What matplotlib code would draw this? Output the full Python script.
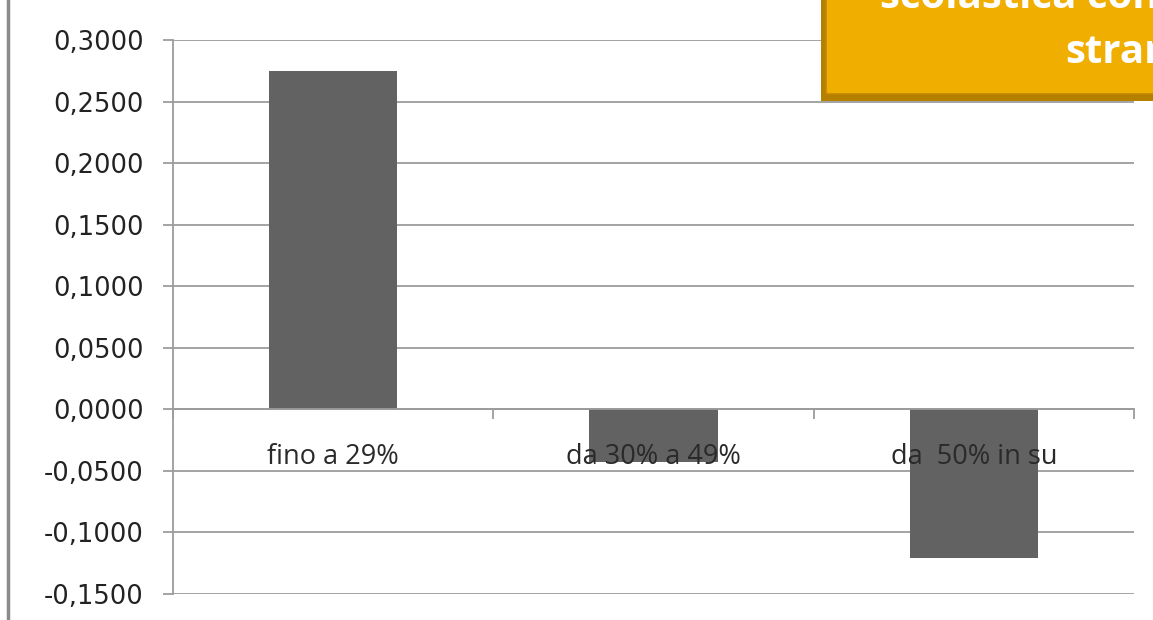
import matplotlib.pyplot as plt
from matplotlib.patches import Rectangle
from matplotlib.ticker import FuncFormatter, MultipleLocator

# data
categories = ["fino a 29%", "da 30% a 49%", "da  50% in su"]
values = [0.2748, -0.0426, -0.1205]
title_lines = ["scolastica con", "straniera"]

fig = plt.figure(figsize=(11.53, 6.2), dpi=100)
ax = fig.add_axes([173 / 1153, 1 - 594 / 620, (1134 - 173) / 1153, (594 - 40) / 620])

grid_col = "#9c9c9c"
xs = [i + 0.5 for i in range(len(categories))]
ax.bar(xs, values, width=0.4, color="#626262", zorder=2)

ax.set_xlim(0, len(categories))
ax.set_ylim(-0.15, 0.30)
ax.yaxis.set_major_locator(MultipleLocator(0.05))
ax.yaxis.set_major_formatter(FuncFormatter(lambda v, p: f"{v:.4f}".replace(".", ",")))
ax.yaxis.grid(True, color=grid_col, lw=1.3, zorder=0)
ax.set_axisbelow(True)

for s in ["top", "right"]:
    ax.spines[s].set_visible(False)
ax.spines["left"].set_color(grid_col)
ax.spines["left"].set_linewidth(1.3)
ax.spines["bottom"].set_position(("data", 0))
ax.spines["bottom"].set_color(grid_col)
ax.spines["bottom"].set_linewidth(1.3)
ax.spines["bottom"].set_zorder(3)

ax.set_xticks(range(len(categories) + 1))
ax.set_xticklabels([])
ax.tick_params(axis="x", direction="out", length=7, width=1.3, color=grid_col)
ax.tick_params(axis="y", direction="out", length=7, width=1.3, color=grid_col,
               pad=14, labelsize=18.5, labelcolor="#222222")

# category labels sit right under the zero line, over the bars
for x, lab in zip(xs, categories):
    ax.annotate(lab, (x, 0), xytext=(0, -24), textcoords="offset points",
                ha="center", va="top", fontsize=19.5, family="Open Sans",
                color="#2a2a2a", zorder=4)

# slide frame line on the left
fig.add_artist(plt.Line2D([8 / 1153, 8 / 1153], [0, 1], color="#8a8a8a", lw=2.5,
                          transform=fig.transFigure))

# orange title box, cut by the figure edge as in the slide
fig.add_artist(Rectangle((821 / 1153, 1 - 101 / 620), 0.3, 0.3, transform=fig.transFigure,
                         facecolor="#b57f00", edgecolor="none", zorder=5))
fig.add_artist(Rectangle((826 / 1153, 1 - 94 / 620), 0.3, 0.3, transform=fig.transFigure,
                         facecolor="#f0ae00", edgecolor="#c08800", lw=1.2, zorder=6))
fig.text(880 / 1153, 1 - 8 / 620, title_lines[0], fontsize=29, fontweight="bold",
         family="Open Sans", color="white", ha="left", va="baseline", zorder=7)
fig.text(1065 / 1153, 1 - 63 / 620, title_lines[1], fontsize=29, fontweight="bold",
         family="Open Sans", color="white", ha="left", va="baseline", zorder=7)

fig.savefig("out.png", dpi=100)
